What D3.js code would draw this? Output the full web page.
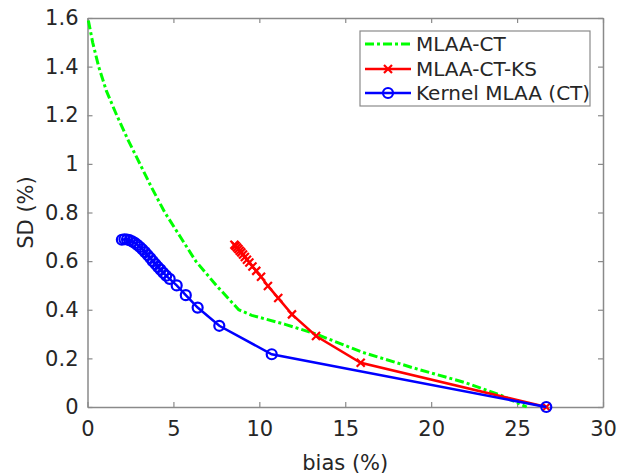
<!DOCTYPE html>
<html>
<head>
<meta charset="utf-8">
<script src="https://cdn.jsdelivr.net/npm/d3@7"></script>
<style>
  body { margin: 0; background: #fff; }
  text { font-family: "DejaVu Sans", sans-serif; fill: #262626; }
</style>
</head>
<body>
<svg width="634" height="474"></svg>
<script>
// bias (%) / SD (%)
var ctBias = [0.05, 0.3, 0.65, 1.1, 1.7, 2.35, 3.05, 3.75, 4.5, 5.4, 6.3, 7.5, 8.8, 9.56, 11.5, 13.3, 16, 19, 22, 24, 25.56];
var ctSD   = [1.59, 1.5, 1.4, 1.3, 1.2, 1.1, 1.0, 0.9, 0.8, 0.7, 0.6, 0.5, 0.4, 0.377, 0.34, 0.3, 0.225, 0.16, 0.1, 0.05, 0];

var ksBias = [8.55, 8.62, 8.7, 8.78, 8.86, 8.95, 9.05, 9.16, 9.28, 9.42, 9.6, 9.82, 10.1, 10.5, 11.1, 11.9, 13.3, 15.9, 26.7];
var ksSD   = [0.667, 0.662, 0.656, 0.65, 0.643, 0.636, 0.627, 0.617, 0.606, 0.594, 0.578, 0.56, 0.536, 0.498, 0.448, 0.381, 0.292, 0.182, 0];

var kBias = [2.0, 2.15, 2.3, 2.45, 2.6, 2.75, 2.9, 3.05, 3.2, 3.35, 3.5, 3.65, 3.8, 3.95, 4.1, 4.25, 4.41, 4.58, 4.78, 5.19, 5.72, 6.41, 7.67, 10.72, 26.7];
var kSD   = [0.688, 0.69, 0.689, 0.686, 0.681, 0.675, 0.667, 0.658, 0.648, 0.637, 0.625, 0.613, 0.6, 0.588, 0.576, 0.565, 0.552, 0.54, 0.527, 0.5, 0.46, 0.409, 0.334, 0.217, 0];

var xTicks = [0, 5, 10, 15, 20, 25, 30];
var yTicks = [0, 0.2, 0.4, 0.6, 0.8, 1, 1.2, 1.4, 1.6];
var labels = ["MLAA-CT", "MLAA-CT-KS", "Kernel MLAA (CT)"];

var svg = d3.select("svg");
var pLeft = 87.5, pRight = 603, pTop = 18, pBottom = 407;

var x = d3.scaleLinear().domain([0, 30]).range([pLeft, pRight]);
var y = d3.scaleLinear().domain([0, 1.6]).range([pBottom, pTop]);

function pts(xs, ys) {
    return xs.map(function(v, i) { return [v, ys[i]]; });
}

var axisColor = "#8a8a8a";
var tickLen = 5;

// axes with inward ticks, MATLAB box style
var xAxis = svg.append("g")
    .attr("transform", "translate(0," + pBottom + ")")
    .call(d3.axisBottom(x).tickValues(xTicks).tickSizeInner(-tickLen).tickSizeOuter(0).tickPadding(14).tickFormat(d3.format("d")));
var yAxis = svg.append("g")
    .attr("transform", "translate(" + pLeft + ",0)")
    .call(d3.axisLeft(y).tickValues(yTicks).tickSizeInner(-tickLen).tickSizeOuter(0).tickPadding(9).tickFormat(function(d) { return String(d); }));
var xTop = svg.append("g")
    .attr("transform", "translate(0," + pTop + ")")
    .call(d3.axisTop(x).tickValues(xTicks).tickSizeInner(-tickLen).tickSizeOuter(0).tickFormat(""));
var yRight = svg.append("g")
    .attr("transform", "translate(" + pRight + ",0)")
    .call(d3.axisRight(y).tickValues(yTicks).tickSizeInner(-tickLen).tickSizeOuter(0).tickFormat(""));

[xAxis, yAxis, xTop, yRight].forEach(function(a) {
    a.selectAll(".domain").attr("stroke", axisColor).attr("stroke-width", 1.5);
    a.selectAll(".tick line").attr("stroke", axisColor).attr("stroke-width", 1.2);
    a.selectAll("text").style("font-size", "21px").style("font-family", "DejaVu Sans, sans-serif").attr("fill", "#262626");
});

svg.append("text")
    .attr("x", (pLeft + pRight) / 2)
    .attr("y", 470)
    .attr("text-anchor", "middle")
    .style("font-size", "21px")
    .text("bias (%)");

svg.append("text")
    .attr("transform", "translate(33," + (pTop + pBottom) / 2 + ") rotate(-90)")
    .attr("text-anchor", "middle")
    .style("font-size", "21px")
    .text("SD (%)");

var line = d3.line()
    .x(function(d) { return x(d[0]); })
    .y(function(d) { return y(d[1]); });

var plot = svg.append("g");

plot.append("path")
    .datum(pts(ctBias, ctSD))
    .attr("d", line)
    .attr("fill", "none")
    .attr("stroke", "#00ff00")
    .attr("stroke-width", 3)
    .attr("stroke-dasharray", "9,3,3,3");

var ks = pts(ksBias, ksSD);
plot.append("path")
    .datum(ks)
    .attr("d", line)
    .attr("fill", "none")
    .attr("stroke", "#ff0000")
    .attr("stroke-width", 2.5);

function crossPath(s) {
    return "M" + (-s) + "," + (-s) + "L" + s + "," + s + "M" + (-s) + "," + s + "L" + s + "," + (-s);
}

plot.append("g").selectAll("path")
    .data(ks)
    .enter()
    .append("path")
    .attr("transform", function(d) { return "translate(" + x(d[0]) + "," + y(d[1]) + ")"; })
    .attr("d", crossPath(4))
    .attr("stroke", "#ff0000")
    .attr("stroke-width", 2.2);

var kk = pts(kBias, kSD);
plot.append("path")
    .datum(kk)
    .attr("d", line)
    .attr("fill", "none")
    .attr("stroke", "#0000ff")
    .attr("stroke-width", 2.5);

plot.append("g").selectAll("circle")
    .data(kk)
    .enter()
    .append("circle")
    .attr("cx", function(d) { return x(d[0]); })
    .attr("cy", function(d) { return y(d[1]); })
    .attr("r", 5)
    .attr("fill", "none")
    .attr("stroke", "#0000ff")
    .attr("stroke-width", 2.2);

// legend
var lg = svg.append("g");
lg.append("rect")
    .attr("x", 360).attr("y", 31)
    .attr("width", 230).attr("height", 75)
    .attr("fill", "#fff")
    .attr("stroke", axisColor)
    .attr("stroke-width", 1.2);

var rowY = [44, 69, 93];
var colors = ["#00ff00", "#ff0000", "#0000ff"];
labels.forEach(function(name, i) {
    var l = lg.append("line")
        .attr("x1", 365).attr("x2", 411)
        .attr("y1", rowY[i]).attr("y2", rowY[i])
        .attr("stroke", colors[i])
        .attr("stroke-width", i === 0 ? 3 : 2.5);
    if (i === 0) l.attr("stroke-dasharray", "9,3,3,3");
    if (i === 1) {
        lg.append("path")
            .attr("transform", "translate(388," + rowY[i] + ")")
            .attr("d", crossPath(4))
            .attr("stroke", colors[i])
            .attr("stroke-width", 2.2);
    }
    if (i === 2) {
        lg.append("circle")
            .attr("cx", 388).attr("cy", rowY[i]).attr("r", 5)
            .attr("fill", "none")
            .attr("stroke", colors[i])
            .attr("stroke-width", 2.2);
    }
    lg.append("text")
        .attr("x", 416)
        .attr("y", rowY[i])
        .attr("dy", "0.36em")
        .style("font-size", "20px")
        .text(name);
});
</script>
</body>
</html>
